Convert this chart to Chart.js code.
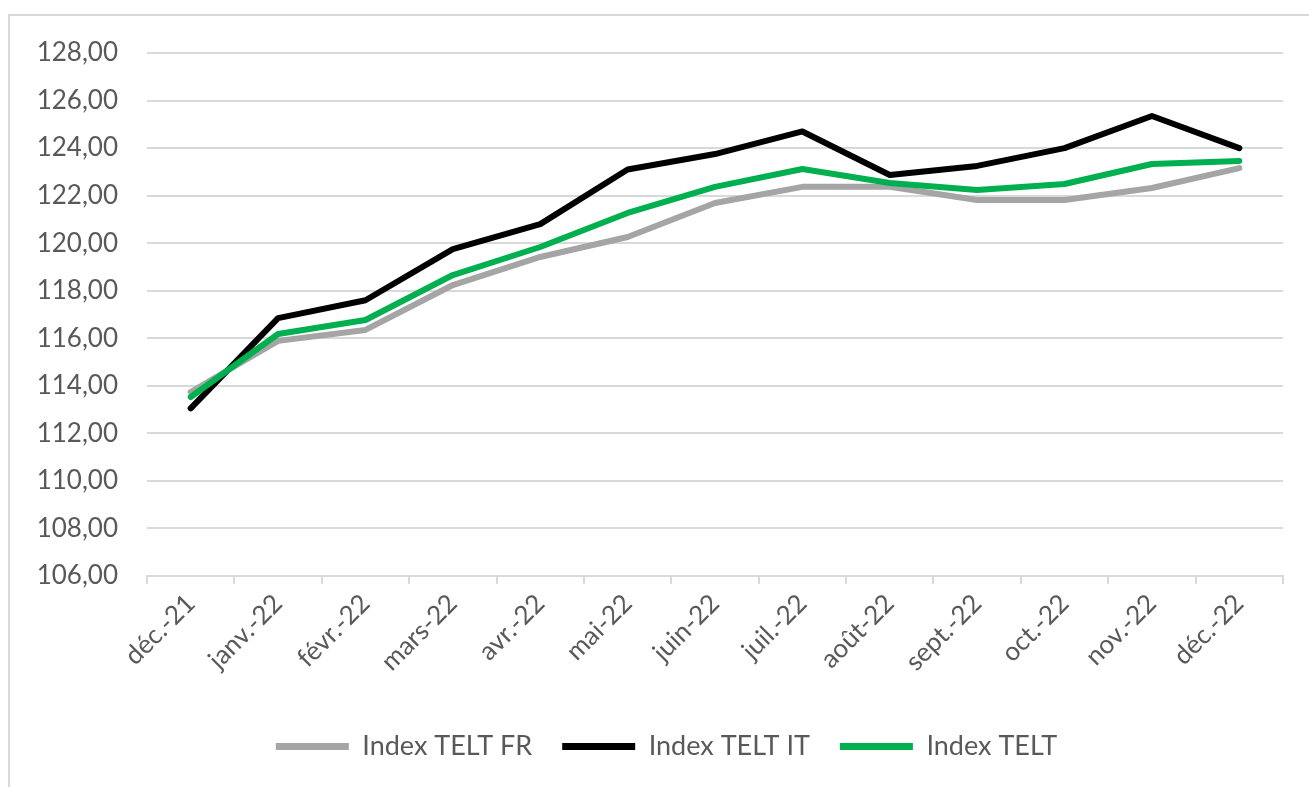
<!DOCTYPE html>
<html>
<head>
<meta charset="utf-8">
<script src="https://cdn.jsdelivr.net/npm/chart.js@4.4.1/dist/chart.umd.min.js"></script>
<style>
  html, body { margin: 0; padding: 0; background: #fff; }
  #frame { position: absolute; left: 8px; top: 14px; width: 1400px; height: 900px;
           border-left: 2px solid #d9d9d9; border-top: 2px solid #d9d9d9; }
  #wrap { position: absolute; left: 0; top: 0; width: 1309px; height: 787px; }
</style>
</head>
<body>
<div id="frame"></div>
<div id="wrap"><canvas id="chart-line"></canvas></div>
<script>
var months = ['déc.-21', 'janv.-22', 'févr.-22', 'mars-22', 'avr.-22', 'mai-22', 'juin-22',
              'juil.-22', 'août-22', 'sept.-22', 'oct.-22', 'nov.-22', 'déc.-22'];
var telt_fr = [113.74, 115.89, 116.35, 118.24, 119.42, 120.26, 121.69, 122.37, 122.37, 121.82, 121.82, 122.32, 123.16];
var telt_it = [113.05, 116.85, 117.6, 119.75, 120.8, 123.1, 123.75, 124.7, 122.87, 123.25, 124.0, 125.35, 124.0];
var telt_all = [113.53, 116.18, 116.77, 118.66, 119.84, 121.27, 122.37, 123.12, 122.53, 122.24, 122.49, 123.33, 123.46];
var y_min = 106, y_max = 128, y_step = 2;

var font_family = 'Lato, "Noto Sans", sans-serif';
var text_color = '#595959';
var grid_color = '#d9d9d9';

function line(label, values, color, order) {
    return {
        label: label,
        data: values,
        borderColor: color,
        backgroundColor: color,
        borderWidth: 6,
        pointRadius: 0,
        tension: 0,
        borderJoinStyle: 'round',
        borderCapStyle: 'round',
        order: order
    };
}

// nudge the legend a bit to the right, like the original
var legend_shift = {
    id: 'legend_shift',
    afterLayout: function (chart) {
        if (chart.legend) {
            chart.legend.left += 25;
            chart.legend.right += 25;
        }
    }
};

function render_chart() {
    var ctx = document.getElementById('chart-line');
    new Chart(ctx, {
        type: 'line',
        data: {
            labels: months,
            datasets: [
                line('Index TELT FR', telt_fr, '#a5a5a5', 3),
                line('Index TELT IT', telt_it, '#000000', 2),
                line('Index TELT', telt_all, '#00b050', 1)
            ]
        },
        plugins: [legend_shift],
        options: {
            responsive: true,
            maintainAspectRatio: false,
            animation: false,
            layout: { padding: { top: 53, right: 26, bottom: 17, left: 0 } },
            plugins: {
                tooltip: { enabled: false },
                legend: {
                    position: 'bottom',
                    labels: {
                        boxWidth: 73,
                        boxHeight: 7,
                        padding: 30,
                        color: text_color,
                        font: { family: font_family, size: 27 },
                        generateLabels: function (chart) {
                            return chart.data.datasets.map(function (ds, i) {
                                return {
                                    text: ds.label,
                                    fillStyle: ds.borderColor,
                                    strokeStyle: ds.borderColor,
                                    lineWidth: 0,
                                    fontColor: text_color,
                                    datasetIndex: i
                                };
                            });
                        }
                    }
                }
            },
            scales: {
                x: {
                    offset: true,
                    grid: {
                        offset: true,
                        drawOnChartArea: false,
                        drawTicks: true,
                        tickLength: 8,
                        color: grid_color,
                        lineWidth: 2
                    },
                    border: { color: grid_color, width: 2 },
                    ticks: {
                        minRotation: 45,
                        maxRotation: 45,
                        autoSkip: false,
                        color: text_color,
                        padding: 4,
                        font: { family: font_family, size: 26 }
                    },
                    afterFit: function (s) { s.height = 127; }
                },
                y: {
                    min: y_min,
                    max: y_max,
                    grid: { color: grid_color, lineWidth: 2, drawTicks: false },
                    border: { display: false },
                    ticks: {
                        stepSize: y_step,
                        padding: 29,
                        color: text_color,
                        font: { family: font_family, size: 26 },
                        callback: function (v) { return v.toFixed(2).replace('.', ','); }
                    },
                    afterFit: function (s) { s.width = 147; }
                }
            }
        }
    });
}
render_chart();
</script>
</body>
</html>
